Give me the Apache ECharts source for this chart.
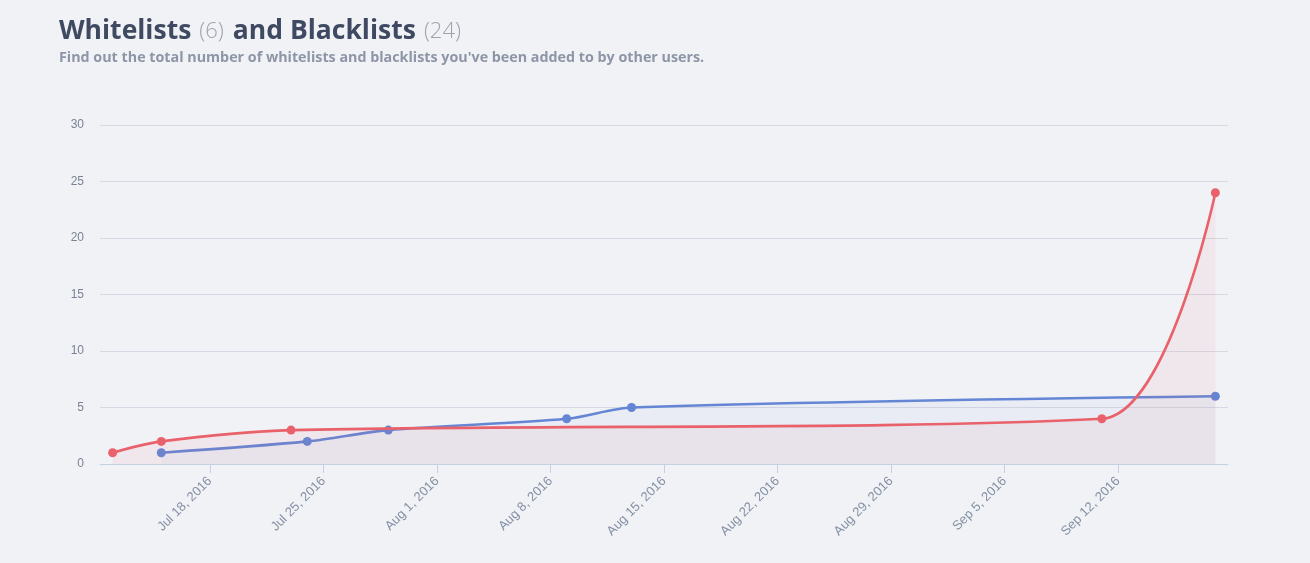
<!DOCTYPE html>
<html>
<head>
<meta charset="utf-8">
<script src="https://cdn.jsdelivr.net/npm/echarts@6/dist/echarts.min.js"></script>
<style>
html,body{margin:0;padding:0;background:#f1f2f6;}
#c{width:1310px;height:563px;}
</style>
</head>
<body>
<div id="c"></div>
<script>
// Data (dates are local calendar days, 2016)
const whitelistDates = ['2016-07-15','2016-07-24','2016-07-29','2016-08-09','2016-08-13','2016-09-18'];
const whitelistValues = [1, 2, 3, 4, 5, 6];
const blacklistDates = ['2016-07-12','2016-07-15','2016-07-23','2016-09-11','2016-09-18'];
const blacklistValues = [1, 2, 3, 4, 24];
const tickDates = ['2016-07-18','2016-07-25','2016-08-01','2016-08-08','2016-08-15','2016-08-22','2016-08-29','2016-09-05','2016-09-12'];
const yTicks = [0, 5, 10, 15, 20, 25, 30];
const whitelistTotal = 6;
const blacklistTotal = 24;

const MONTHS = ['Jan','Feb','Mar','Apr','May','Jun','Jul','Aug','Sep','Oct','Nov','Dec'];
function ts(s){ const p = s.split('-').map(Number); return new Date(p[0], p[1]-1, p[2]).getTime(); }
function fmt(v){ const d = new Date(v); return MONTHS[d.getMonth()] + ' ' + d.getDate() + ', ' + d.getFullYear(); }
const DAY = 86400000;

const wData = whitelistDates.map((d,i)=>[ts(d), whitelistValues[i]]);
const bData = blacklistDates.map((d,i)=>[ts(d), blacklistValues[i]]);
const allT = wData.concat(bData).map(p=>p[0]);
const tMin = Math.min.apply(null, allT) - 0.78*DAY;
const tMax = Math.max.apply(null, allT) + 0.78*DAY;
const ticks = tickDates.map(ts);

const chart = echarts.init(document.getElementById('c'), null, {renderer:'canvas'});
chart.setOption({
  backgroundColor: '#f1f2f6',
  animation: false,
  title: {
    left: 54,
    top: 13,
    text: '{a|Whitelists} {b|(' + whitelistTotal + ')} {a|and Blacklists} {b|(' + blacklistTotal + ')}',
    textStyle: {
      rich: {
        a: {fontFamily: 'Open Sans', fontWeight: 700, fontSize: 26.5, color: '#3f4a62'},
        b: {fontFamily: 'Open Sans', fontWeight: 300, fontSize: 22, color: '#9ea3ae', padding: [0, 4, 0, 3]}
      }
    },
    subtext: "Find out the total number of whitelists and blacklists you've been added to by other users.",
    subtextStyle: {fontFamily: 'Open Sans', fontWeight: 700, fontSize: 14.3, color: '#8d95a6'},
    itemGap: 6
  },
  grid: {left: 100, right: 82, top: 125, bottom: 99, containLabel: false},
  xAxis: {
    type: 'value',
    min: tMin,
    max: tMax,
    axisLine: {show: true, lineStyle: {color: '#c4d0e2', width: 1}},
    axisTick: {show: true, customValues: ticks, length: 9, lineStyle: {color: '#c4d0e2'}},
    axisLabel: {
      customValues: ticks,
      formatter: function(v){ return fmt(v); },
      rotate: 45,
      color: '#8490a4',
      fontFamily: 'Liberation Sans, Arial, sans-serif',
      fontSize: 13,
      margin: 15
    },
    splitLine: {show: false}
  },
  yAxis: {
    type: 'value',
    min: yTicks[0],
    max: yTicks[yTicks.length-1],
    interval: 5,
    axisLine: {show: false},
    axisTick: {show: false},
    axisLabel: {color: '#7a8294', fontFamily: 'Liberation Sans, Arial, sans-serif', fontSize: 12, margin: 16},
    splitLine: {lineStyle: {color: '#d6d9e3', width: 1}}
  },
  series: [
    {
      name: 'Blacklists',
      type: 'line',
      data: bData,
      smooth: 0.3,
      symbol: 'circle',
      symbolSize: 9,
      color: '#e9626b',
      lineStyle: {width: 2.6, color: '#e9626b'},
      itemStyle: {color: '#e9626b'},
      areaStyle: {color: 'rgba(233,98,107,0.1)'},
      z: 3
    },
    {
      name: 'Whitelists',
      type: 'line',
      data: wData,
      smooth: 0.3,
      symbol: 'circle',
      symbolSize: 9,
      color: '#6586d4',
      lineStyle: {width: 2.6, color: '#6586d4'},
      itemStyle: {color: '#6586d4'},
      areaStyle: {color: 'rgba(101,134,212,0.07)'},
      z: 2
    }
  ]
});
</script>
</body>
</html>
